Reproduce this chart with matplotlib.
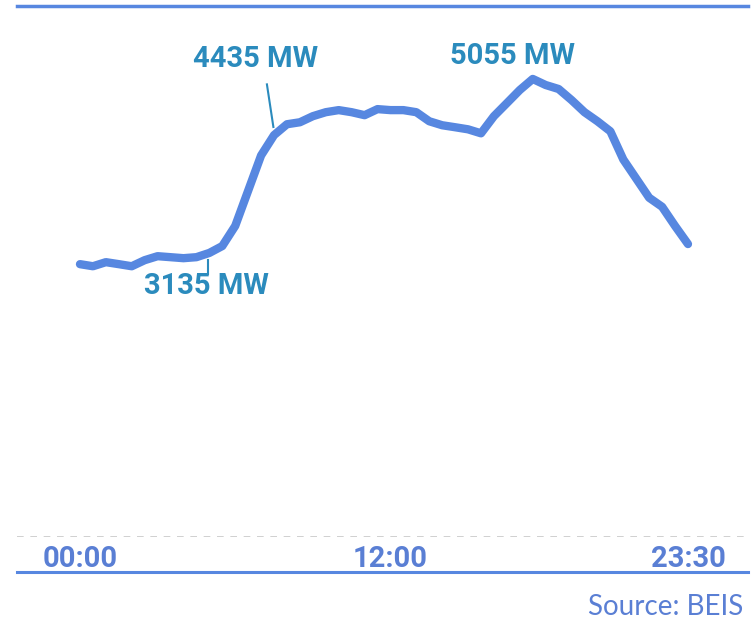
import numpy as np
import matplotlib
matplotlib.use("Agg")
import matplotlib.pyplot as plt
from matplotlib.lines import Line2D

# Half-hourly demand over one day (MW), 00:00 .. 23:30
times = ["%02d:%02d" % (h, m) for h in range(24) for m in (0, 30)]
demand = [3011, 2988, 3033, 3011, 2988, 3055, 3099, 3088, 3077, 3088,
          3135, 3211, 3433, 3822, 4211, 4435, 4555, 4577, 4644, 4688,
          4711, 4688, 4655, 4722, 4711, 4711, 4688, 4588, 4544, 4522,
          4499, 4455, 4644, 4788, 4933, 5055, 4988, 4944, 4822, 4688,
          4588, 4477, 4166, 3955, 3744, 3644, 3433, 3233]
tick_times = ["00:00", "12:00", "23:30"]
callouts = ["05:00", "07:30", "17:30"]

line_col = "#5787e0"
label_col = "#2b8bbd"
axis_col = "#5a7fd4"
bold_font = ["Roboto", "DejaVu Sans"]

plt.rcParams["font.family"] = ["Lato", "DejaVu Sans"]

fig = plt.figure(figsize=(7.54, 6.23), dpi=100)
ax = fig.add_axes([17 / 754, 1 - 537 / 623, 731 / 754, 531 / 623])

x = np.arange(len(demand))
ax.plot(x, demand, color=line_col, lw=6, solid_capstyle="round",
        solid_joinstyle="round", zorder=3)

ax.set_xlim(-4.87, 51.64)
ax.set_ylim(0, 5860)
ax.set_yticks([])
ax.set_xticks([times.index(t) for t in tick_times])
ax.set_xticklabels(tick_times, fontsize=21, fontweight="bold", color=axis_col,
                   family=bold_font)
ax.tick_params(axis="x", length=0, pad=6)

for s in ("left", "right", "bottom"):
    ax.spines[s].set_visible(False)
ax.spines["top"].set_color(line_col)
ax.spines["top"].set_linewidth(2.5)

# zero baseline
ax.axhline(0, color="#c8c8c8", lw=1.2, ls=(0, (4, 4)), zorder=1)

# call-outs for night low, morning ramp and evening peak
i_low, i_ramp, i_peak = [times.index(t) for t in callouts]
lab = dict(ha="center", va="center", fontsize=21, fontweight="bold",
           color=label_col, family=bold_font)
ax.text(i_low - 0.2, demand[i_low] - 370, "%d MW" % demand[i_low], **lab)
ax.plot([i_low - 0.1, i_low - 0.1], [demand[i_low] - 80, demand[i_low] - 230],
        color=label_col, lw=1.5, zorder=2)

ax.text(i_ramp - 1.4, demand[i_ramp] + 840, "%d MW" % demand[i_ramp], **lab)
ax.plot([i_ramp - 0.55, i_ramp - 0.05],
        [demand[i_ramp] + 560, demand[i_ramp] + 90],
        color=label_col, lw=1.5, zorder=2)

ax.text(i_peak - 1.55, demand[i_peak] + 250, "%d MW" % demand[i_peak], **lab)

# rule under the time labels
fig.add_artist(Line2D([17 / 754, 748 / 754], [1 - 572 / 623, 1 - 572 / 623],
                      color=line_col, lw=2.2))
fig.text(743 / 754, 1 - 607 / 623, "Source: BEIS", ha="right", va="center",
         fontsize=20, color=axis_col)

fig.savefig("out.png", dpi=100)
